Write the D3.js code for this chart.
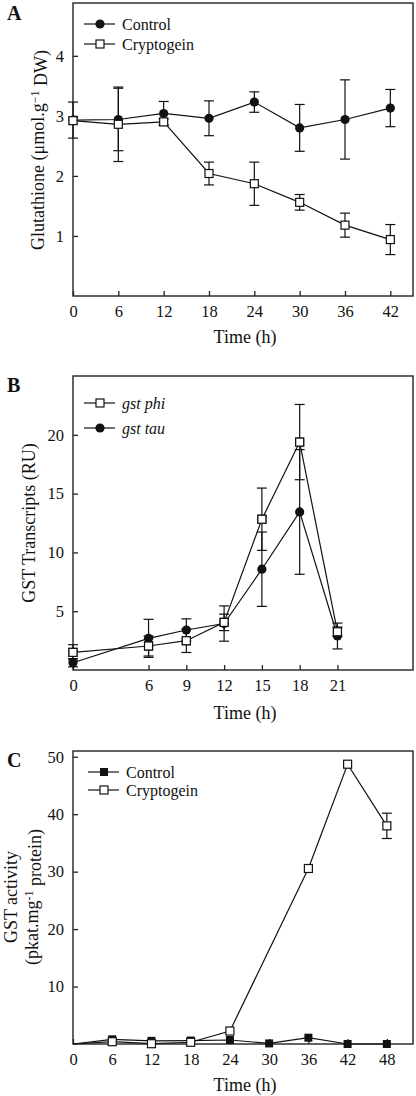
<!DOCTYPE html>
<html><head><meta charset="utf-8">
<script src="https://cdn.jsdelivr.net/npm/d3@7"></script>
<style>body{margin:0;background:#fff}svg{display:block}text{font-family:"Liberation Serif","Times New Roman",serif;fill:#111}</style>
</head><body>
<svg id="c" width="416" height="1096"></svg>
<script>
// Panel A
const timeA = [0, 6, 12, 18, 24, 30, 36, 42];
const ctrlA = [2.93, 2.94, 3.04, 2.96, 3.23, 2.80, 2.94, 3.13];
const ctrlAerr = [0.30, 0.52, 0.20, 0.29, 0.17, 0.39, 0.66, 0.31];
const cryA = [2.92, 2.86, 2.90, 2.04, 1.87, 1.56, 1.18, 0.94];
const cryAerr = [0.05, 0.62, 0.05, 0.19, 0.36, 0.13, 0.20, 0.25];
const xTicksA = [0, 6, 12, 18, 24, 30, 36, 42];
const yTicksA = [1, 2, 3, 4];
// Panel B
const timeB = [0, 6, 9, 12, 15, 18, 21];
const phiB = [1.5, 2.04, 2.49, 4.05, 12.82, 19.38, 3.25];
const phiBerr = [0.65, 0.85, 1.0, 0.7, 2.65, 3.2, 0.4];
const tauB = [0.62, 2.69, 3.40, 3.95, 8.57, 13.44, 2.89];
const tauBerr = [0.35, 1.62, 0.95, 1.5, 3.16, 5.3, 1.1];
const xTicksB = [0, 6, 9, 12, 15, 18, 21];
const yTicksB = [5, 10, 15, 20];
// Panel C
const timeC = [0, 6, 12, 18, 24, 30, 36, 42, 48];
const ctrlC = [0, 0.82, 0.55, 0.6, 0.7, 0.1, 1.1, 0.0, 0.0];
const timeCry = [0, 6, 12, 18, 24, 36, 42, 48];
const cryC = [0, 0.4, 0.05, 0.3, 2.26, 30.55, 48.7, 37.97];
const cryCerr = [0, 0, 0, 0, 0, 0, 0, 2.2];
const xTicksC = [0, 6, 12, 18, 24, 30, 36, 42, 48];
const yTicksC = [10, 20, 30, 40, 50];

const svg = d3.select("#c");
const L = 73, R = 413;
const FT = "16.5px", FL = "18px", FG = "16px";

function panel(o) {
  const g = svg.append("g");
  const x = d3.scaleLinear().domain(o.xd).range([L, R]);
  const y = d3.scaleLinear().domain(o.yd).range([o.bottom, o.top]);
  g.append("rect").attr("x", L).attr("y", o.top).attr("width", R - L).attr("height", o.bottom - o.top)
    .attr("fill", "none").attr("stroke", "#222").attr("stroke-width", 1.4);
  const xa = g.append("g").attr("transform", `translate(0,${o.bottom})`)
    .call(d3.axisBottom(x).tickValues(o.xt).tickFormat(d3.format("d")).tickSizeInner(-5).tickSizeOuter(0).tickPadding(9));
  const ya = g.append("g").attr("transform", `translate(${L},0)`)
    .call(d3.axisLeft(y).tickValues(o.yt).tickFormat(d3.format("d")).tickSizeInner(-5).tickSizeOuter(0).tickPadding(9));
  [xa, ya].forEach(a => {
    a.select(".domain").remove();
    a.selectAll("line").attr("stroke", "#222").attr("stroke-width", 1.3);
    a.selectAll("text").style("font-size", FT).style("font-family", "Liberation Serif").attr("fill", "#111");
  });
  xa.selectAll("text").attr("dy", "0.71em");
  g.append("text").attr("x", (L + R) / 2 + 2).attr("y", o.xlabY).attr("text-anchor", "middle")
    .style("font-size", FL).text("Time (h)");
  g.append("text").attr("x", 7).attr("y", o.letterY).style("font-size", "20px").style("font-weight", "bold").text(o.letter);
  return {g, x, y};
}

function series(p, xs, ys, errs, shape, skipFirstMarker) {
  const {g, x, y} = p;
  const line = d3.line().x((d, i) => x(xs[i])).y(d => y(d));
  g.append("path").datum(ys).attr("d", line).attr("fill", "none").attr("stroke", "#111").attr("stroke-width", 1.2);
  if (errs) {
    ys.forEach((v, i) => {
      const e = errs[i];
      if (!e) return;
      const cx = x(xs[i]);
      g.append("line").attr("x1", cx).attr("x2", cx).attr("y1", y(v - e)).attr("y2", y(v + e)).attr("stroke", "#111").attr("stroke-width", 1.2);
      [v - e, v + e].forEach(w => g.append("line").attr("x1", cx - 5).attr("x2", cx + 5).attr("y1", y(w)).attr("y2", y(w)).attr("stroke", "#111").attr("stroke-width", 1.2));
    });
  }
  ys.forEach((v, i) => { if (!(skipFirstMarker && i === 0)) marker(g, x(xs[i]), y(v), shape); });
}

function marker(g, cx, cy, shape) {
  if (shape === "circle") {
    g.append("circle").attr("cx", cx).attr("cy", cy).attr("r", 4.6).attr("fill", "#111");
  } else if (shape === "fsquare") {
    g.append("rect").attr("x", cx - 4).attr("y", cy - 4).attr("width", 8).attr("height", 8).attr("fill", "#111");
  } else {
    g.append("rect").attr("x", cx - 4).attr("y", cy - 4).attr("width", 8).attr("height", 8).attr("fill", "#fff").attr("stroke", "#111").attr("stroke-width", 1.2);
  }
}

function legend(g, x0, entries) {
  entries.forEach(e => {
    g.append("line").attr("x1", x0 - 16).attr("x2", x0 + 15).attr("y1", e.y).attr("y2", e.y).attr("stroke", "#111").attr("stroke-width", 1.2);
    marker(g, x0, e.y, e.shape);
    g.append("text").attr("x", x0 + 22).attr("y", e.y).attr("dy", "0.35em").style("font-size", FG)
      .style("font-style", e.italic ? "italic" : "normal").text(e.label);
  });
}

// ---------- Panel A ----------
const pA = panel({xd: [0, 45], yd: [0, 4.88], top: 3, bottom: 296, xt: xTicksA, yt: yTicksA, xlabY: 343, letter: "A", letterY: 20});
series(pA, timeA, ctrlA, ctrlAerr, "circle");
series(pA, timeA, cryA, cryAerr, "square");
legend(pA.g, 100, [{y: 24, shape: "circle", label: "Control"}, {y: 44, shape: "square", label: "Cryptogein"}]);
{
  const t = pA.g.append("text").attr("transform", "translate(44,150) rotate(-90)").attr("text-anchor", "middle").style("font-size", FL);
  t.append("tspan").text("Glutathione (μmol.g");
  t.append("tspan").attr("dy", "-0.45em").style("font-size", "12px").text("−1");
  t.append("tspan").attr("dy", "0.45em").text(" DW)");
}

// ---------- Panel B ----------
const pB = panel({xd: [0, 27], yd: [0, 25], top: 376, bottom: 670, xt: xTicksB, yt: yTicksB, xlabY: 719, letter: "B", letterY: 392});
series(pB, timeB, phiB, phiBerr, "square");
series(pB, timeB, tauB, tauBerr, "circle");
phiB.forEach((v, i) => marker(pB.g, pB.x(timeB[i]), pB.y(v), "square"));
legend(pB.g, 100, [{y: 403, shape: "square", label: "gst phi", italic: true}, {y: 428, shape: "circle", label: "gst tau", italic: true}]);
pB.g.append("text").attr("transform", "translate(35,523) rotate(-90)").attr("text-anchor", "middle").style("font-size", FL).text("GST Transcripts (RU)");

// ---------- Panel C ----------
const pC = panel({xd: [0, 52], yd: [0, 51], top: 751, bottom: 1044, xt: xTicksC, yt: yTicksC, xlabY: 1091, letter: "C", letterY: 767});
series(pC, timeC, ctrlC, null, "fsquare", true);
series(pC, timeCry, cryC, cryCerr, "square", true);
legend(pC.g, 104, [{y: 772, shape: "fsquare", label: "Control"}, {y: 790, shape: "square", label: "Cryptogein"}]);
{
  pC.g.append("text").attr("transform", "translate(17,897) rotate(-90)").attr("text-anchor", "middle").style("font-size", FL).text("GST activity");
  const t = pC.g.append("text").attr("transform", "translate(38,897) rotate(-90)").attr("text-anchor", "middle").style("font-size", FL);
  t.append("tspan").text("(pkat.mg");
  t.append("tspan").attr("dy", "-0.45em").style("font-size", "12px").text("-1");
  t.append("tspan").attr("dy", "0.45em").text(" protein)");
}
</script>
</body></html>
